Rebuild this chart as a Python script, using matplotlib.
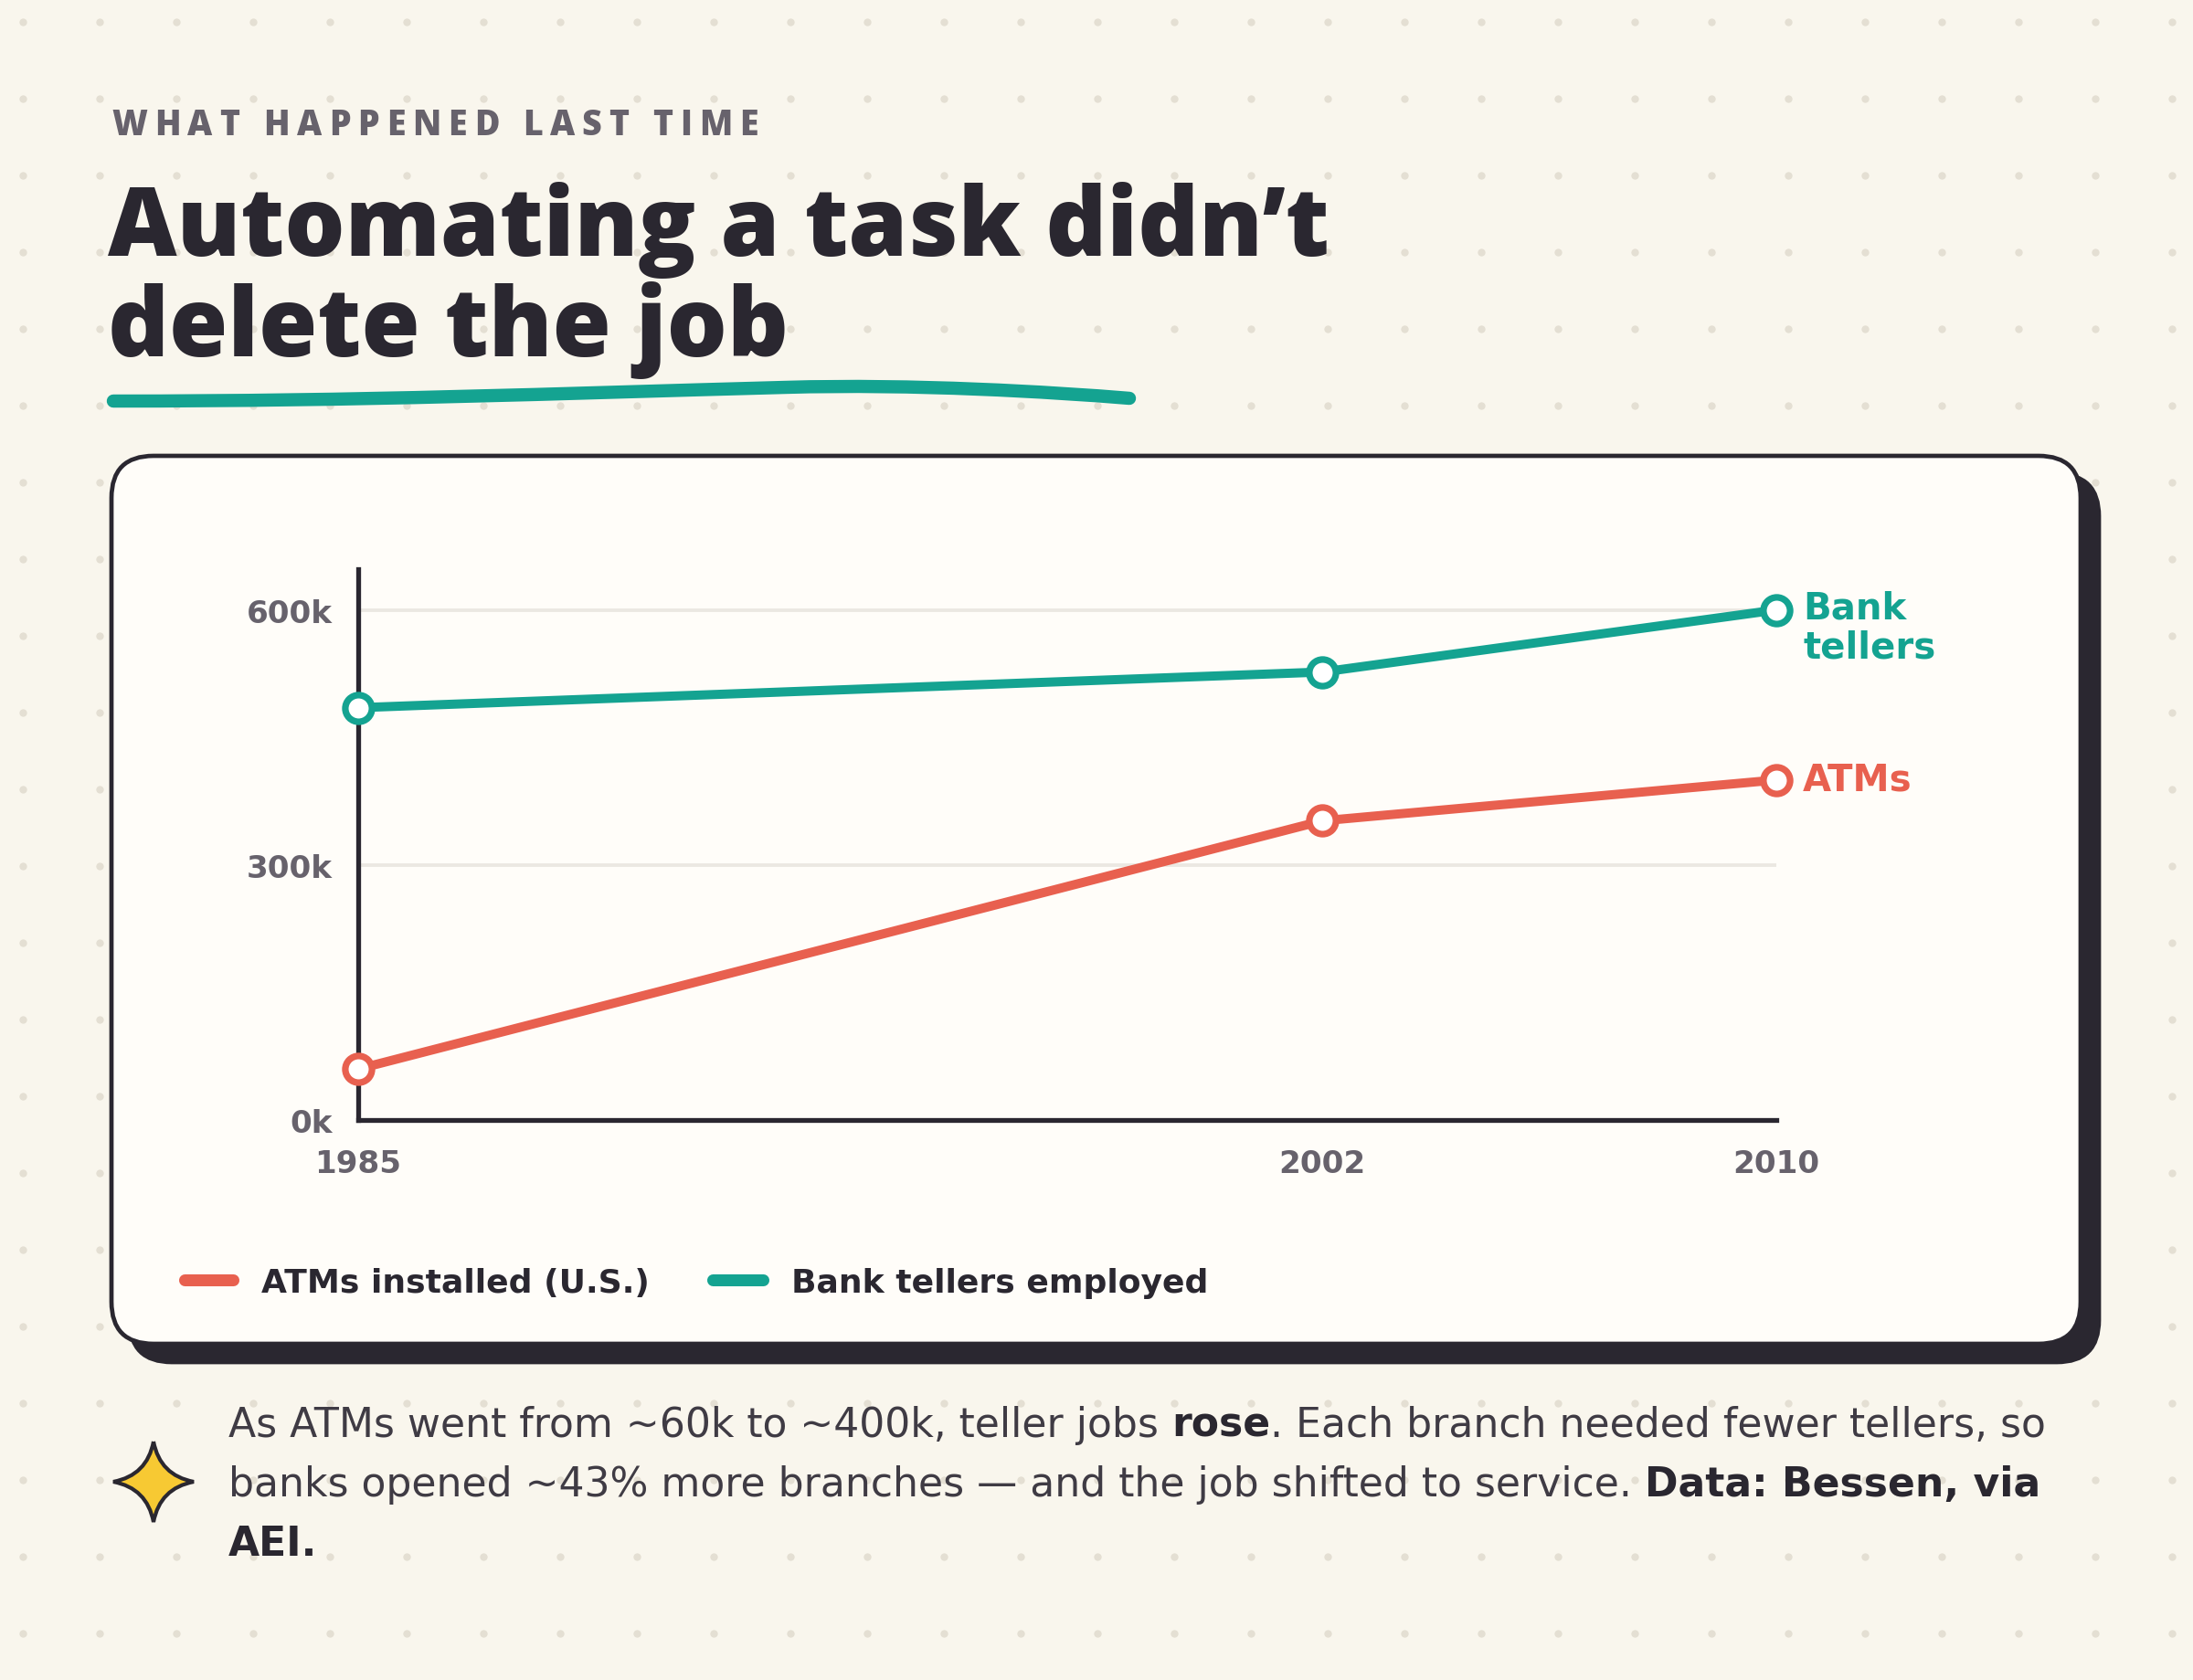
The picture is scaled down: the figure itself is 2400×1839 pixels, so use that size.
import numpy as np
import matplotlib.pyplot as plt
from matplotlib.patches import FancyBboxPatch, PathPatch
from matplotlib.path import Path

# data
years = [1985, 2002, 2010]
atms = [60000, 352000, 400000]
tellers = [485000, 527000, 600000]
y_ticks = [0, 300000, 600000]
y_labels = ['0k', '300k', '600k']
x_labels = ['1985', '2002', '2010']

kicker = 'WHAT HAPPENED LAST TIME'
title_lines = ['Automating a task didn’t', 'delete the job']
legend_labels = ['ATMs installed (U.S.)', 'Bank tellers employed']
caption = [
    [('As ATMs went from ~60k to ~400k, teller jobs ', 'normal'), ('rose', 'bold'),
     ('. Each branch needed fewer tellers, so', 'normal')],
    [('banks opened ~43% more branches — and the job shifted to service. ', 'normal'),
     ('Data: Bessen, via', 'bold')],
    [('AEI.', 'bold')],
]

# colours
BG = '#f9f6ed'
CARD = '#fffdf9'
INK = '#2a2730'
BODY = '#3f3b44'
GREY = '#67626c'
TEAL = '#14a391'
CORAL = '#e8604f'
GRID = '#ebe8e2'
DOT = '#e4dfd3'
STAR = '#f7c933'

HEAD = 'Open Sans'
FONT = 'DejaVu Sans'

fig = plt.figure(figsize=(12, 9.2), dpi=200, facecolor=BG)
bg = fig.add_axes([0, 0, 1, 1])
bg.set_xlim(0, 2400)
bg.set_ylim(1840, 0)
bg.axis('off')
r = fig.canvas.get_renderer()

# dotted paper
gx, gy = np.meshgrid(np.arange(25, 2400, 84), np.arange(25, 1840, 84))
bg.scatter(gx.ravel(), gy.ravel(), s=9, color=DOT, lw=0, zorder=0)


def adv(txt, **kw):
    a = bg.text(0, 0, txt + '|', **kw)
    b = bg.text(0, 0, '|', **kw)
    w = a.get_window_extent(r).width - b.get_window_extent(r).width
    a.remove()
    b.remove()
    return w


def runs(x, y, parts, size, colors, zorder=5):
    for txt, w in parts:
        kw = dict(fontsize=size, fontweight=w, family=FONT)
        bg.text(x, y, txt, color=colors[w], va='baseline', ha='left', zorder=zorder, **kw)
        x += adv(txt, **kw)


# kicker with letter spacing
x = 122
kw = dict(fontsize=13.5, fontweight='heavy', family=HEAD)
for ch in kicker:
    bg.text(x, 148, ch, color=GREY, va='baseline', ha='left', **kw)
    x += adv(ch, **kw) + 7.9

# title
for i, line in enumerate(title_lines):
    bg.text(118, 280 + 110 * i, line, fontsize=37.5, fontweight='heavy', family=HEAD,
            color=INK, va='baseline', ha='left')

# brush underline
verts = [(124, 440), (400, 440), (600, 432), (860, 425), (1000, 421), (1150, 430), (1236, 437)]
codes = [Path.MOVETO] + [Path.CURVE4] * 6
bg.add_patch(PathPatch(Path(verts, codes), fill=False, edgecolor=TEAL, lw=5.2,
                       capstyle='round', zorder=2))

# card with shadow
for off, fc in [(20, INK), (0, CARD)]:
    bg.add_patch(FancyBboxPatch((122 + off, 500 + off), 2155, 972,
                                boxstyle='round,pad=0,rounding_size=46',
                                fc=fc, ec=INK, lw=1.7, zorder=1 + (off == 0)))

# chart
ax = fig.add_axes([392 / 2400, 1 - 1227 / 1840, (1944 - 392) / 2400, (1227 - 624) / 1840])
ax.set_facecolor('none')
ax.set_xlim(1985, 2010)
ax.set_ylim(0, 648000)
for s in ['top', 'right']:
    ax.spines[s].set_visible(False)
for s in ['left', 'bottom']:
    ax.spines[s].set_color(INK)
    ax.spines[s].set_linewidth(1.9)
    ax.spines[s].set_zorder(3)
ax.set_yticks(y_ticks, y_labels)
ax.set_xticks(years, x_labels)
ax.tick_params(length=0, labelsize=12.3, labelcolor=GREY)
ax.tick_params(axis='y', pad=10)
ax.tick_params(axis='x', pad=11)
for lab in ax.get_xticklabels() + ax.get_yticklabels():
    lab.set_fontweight('bold')
    lab.set_family(FONT)
ax.grid(axis='y', color=GRID, lw=1.4)
ax.grid(axis='x', visible=False)
ax.set_axisbelow(True)

for vals, c in [(atms, CORAL), (tellers, TEAL)]:
    ax.plot(years, vals, color=c, lw=3.6, marker='o', ms=10.5, mfc='white', mec=c,
            mew=2.6, clip_on=False, zorder=4, solid_capstyle='round')

ax.annotate('Bank\ntellers', (years[-1], tellers[-1]), xytext=(10.5, -7), textcoords='offset points',
            color=TEAL, fontsize=14.5, fontweight='bold', family=FONT, va='center', ha='left',
            linespacing=1.1, annotation_clip=False)
ax.annotate('ATMs', (years[-1], atms[-1]), xytext=(10.5, 0), textcoords='offset points',
            color=CORAL, fontsize=14.5, fontweight='bold', family=FONT, va='center', ha='left',
            annotation_clip=False)

# legend
for (x0, x1, tx), lab, c in zip([(202, 255, 286), (780, 835, 866)], legend_labels, [CORAL, TEAL]):
    bg.plot([x0, x1], [1402, 1402], color=c, lw=4.7, solid_capstyle='round', zorder=5)
    bg.text(tx, 1402, lab, fontsize=13.0, fontweight='bold', family=FONT, color=INK,
            va='center_baseline', ha='left', zorder=5)

# star icon
cx, cy, h, k = 168, 1623, 44, 7
star = [(cx, cy - h), (cx + k, cy - k), (cx + h, cy), (cx + k, cy + k), (cx, cy + h),
        (cx - k, cy + k), (cx - h, cy), (cx - k, cy - k), (cx, cy - h)]
scodes = [Path.MOVETO] + [Path.CURVE3] * 8
bg.add_patch(PathPatch(Path(star, scodes), fc=STAR, ec=INK, lw=1.5, zorder=5))

# caption
for i, parts in enumerate(caption):
    runs(250, 1573 + 65 * i, parts, 15.9, {'normal': BODY, 'bold': INK})

fig.savefig('out.png', dpi=200, facecolor=BG)
